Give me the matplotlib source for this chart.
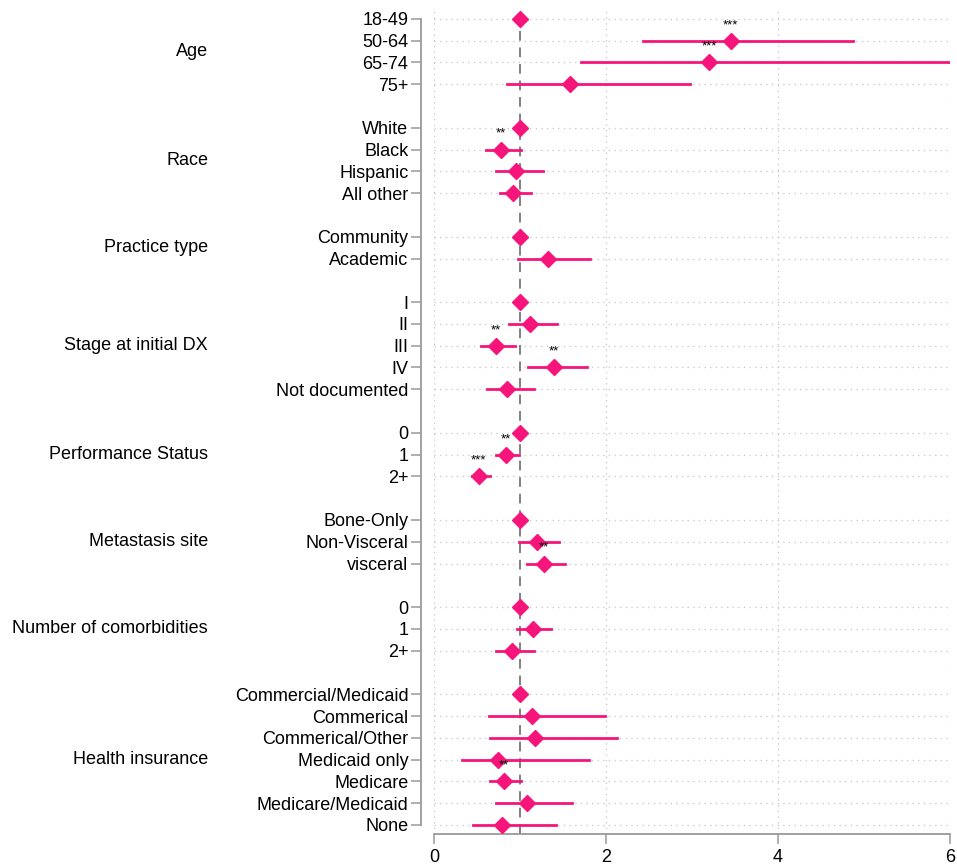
import numpy as np
import matplotlib.pyplot as plt
from matplotlib.transforms import blended_transform_factory

plt.rcParams['font.family'] = ['Liberation Sans', 'DejaVu Sans']

groups = ['Age', 'Race', 'Practice type', 'Stage at initial DX',
          'Performance Status', 'Metastasis site',
          'Number of comorbidities', 'Health insurance']

levels = [
    ['18-49', '50-64', '65-74', '75+'],
    ['White', 'Black', 'Hispanic', 'All other'],
    ['Community', 'Academic'],
    ['I', 'II', 'III', 'IV', 'Not documented'],
    ['0', '1', '2+'],
    ['Bone-Only', 'Non-Visceral', 'visceral'],
    ['0', '1', '2+'],
    ['Commercial/Medicaid', 'Commerical', 'Commerical/Other', 'Medicaid only',
     'Medicare', 'Medicare/Medicaid', 'None'],
]

# odds ratios and 95% CI (nan = reference level, no interval)
nan = np.nan
odds = [
    [1.0, 3.45, 3.20, 1.58],
    [1.0, 0.78, 0.95, 0.92],
    [1.0, 1.33],
    [1.0, 1.12, 0.72, 1.39, 0.85],
    [1.0, 0.84, 0.52],
    [1.0, 1.20, 1.28],
    [1.0, 1.15, 0.91],
    [1.0, 1.14, 1.18, 0.74, 0.81, 1.08, 0.79],
]
ci_low = [
    [nan, 2.43, 1.71, 0.85],
    [nan, 0.60, 0.72, 0.77],
    [nan, 0.98],
    [nan, 0.87, 0.55, 1.09, 0.62],
    [nan, 0.72, 0.44],
    [nan, 0.99, 1.08],
    [nan, 0.97, 0.72],
    [nan, 0.64, 0.65, 0.32, 0.65, 0.72, 0.45],
]
ci_high = [
    [nan, 4.87, 6.40, 2.98],
    [nan, 1.01, 1.27, 1.13],
    [nan, 1.81],
    [nan, 1.43, 0.94, 1.78, 1.16],
    [nan, 0.99, 0.65],
    [nan, 1.45, 1.52],
    [nan, 1.36, 1.16],
    [nan, 1.99, 2.13, 1.80, 1.01, 1.60, 1.42],
]
stars = [
    ['', '***', '***', ''],
    ['', '**', '', ''],
    ['', ''],
    ['', '', '**', '**', ''],
    ['', '**', '***'],
    ['', '', '**'],
    ['', '', ''],
    ['', '', '', '', '**', '', ''],
]

pink = '#F5157B'

fig = plt.figure(figsize=(9.57, 8.66), dpi=100)
ax = fig.add_axes([434 / 957, 1 - 834 / 866, 516 / 957, 826 / 866])

ypos, ylabels, group_centers = [], [], []
row = 0
for g in range(len(groups)):
    rows = []
    for i, lab in enumerate(levels[g]):
        y = row
        rows.append(y)
        ypos.append(y)
        ylabels.append(lab)
        ax.axhline(y, color='#c4c4c4', lw=0.9, ls=(0, (1, 3.5)), zorder=0)
        if not np.isnan(ci_low[g][i]):
            ax.plot([ci_low[g][i], ci_high[g][i]], [y, y], color=pink, lw=2, zorder=3)
        ax.plot(odds[g][i], y, marker='D', color=pink, ms=8.5, zorder=4, ls='none')
        if stars[g][i]:
            ax.text(odds[g][i], y - 0.72, stars[g][i], ha='center', va='center',
                    fontsize=9.5, zorder=5)
        row += 1
    group_centers.append(np.mean(rows))
    row += 1

for xv in [0, 2, 4, 6]:
    ax.axvline(xv, color='#c4c4c4', lw=0.9, ls=(0, (1, 3.5)), zorder=0)
ax.axvline(1, color='#808080', lw=1.4, ls=(0, (5, 3.5)), zorder=2)

nrow = ypos[-1]
ax.set_xlim(0, 6)
# top half a row above first level, bottom ~0.41 row below last level
ax.set_ylim(nrow + 9 / 21.78, -0.5)
ax.set_xticks([0, 2, 4, 6])
ax.set_yticks(ypos)
ax.set_yticklabels(ylabels)

for s in ['top', 'right']:
    ax.spines[s].set_visible(False)
ax.spines['left'].set_position(('outward', 9.4))
ax.spines['left'].set_bounds(0, nrow)
ax.spines['bottom'].set_bounds(0, 6)
for s in ['left', 'bottom']:
    ax.spines[s].set_color('#9a9a9a')
    ax.spines[s].set_linewidth(1.3)
ax.tick_params(axis='both', colors='#9a9a9a', labelcolor='black', length=7,
               width=1.1, labelsize=13, pad=2)
ax.tick_params(axis='x', pad=3.5)

trans = blended_transform_factory(fig.transFigure, ax.transData)
for g, yc in zip(groups, group_centers):
    ax.text(208 / 957, yc, g, transform=trans, ha='right', va='center', fontsize=13)

fig.savefig('out.png', dpi=100)
